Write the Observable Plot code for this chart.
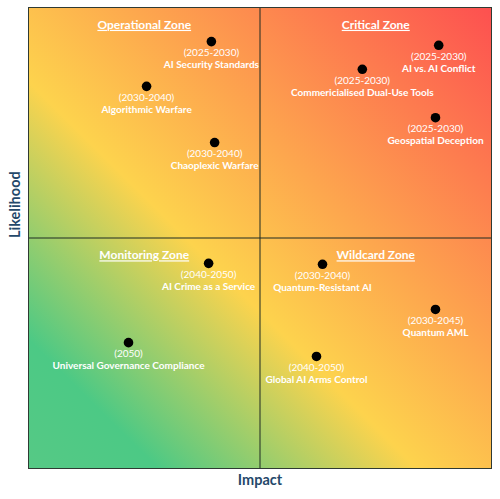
<!DOCTYPE html>
<html>
<head>
<meta charset="utf-8">
<script src="https://cdn.jsdelivr.net/npm/d3@7"></script>
<script src="https://cdn.jsdelivr.net/npm/@observablehq/plot@0.6"></script>
<style>
  html, body { margin: 0; padding: 0; background: white; }
  #chart { width: 500px; height: 499px; }
</style>
</head>
<body>
<div id="chart"></div>
<script>
// ---- data ----
const names = [
  "AI Security Standards", "Algorithmic Warfare", "Chaoplexic Warfare",
  "AI vs. AI Conflict", "Commericialised Dual-Use Tools", "Geospatial Deception",
  "AI Crime as a Service", "Universal Governance Compliance",
  "Quantum-Resistant AI", "Quantum AML", "Global AI Arms Control"
];
const periods = [
  "(2025-2030)", "(2030-2040)", "(2030-2040)",
  "(2025-2030)", "(2025-2030)", "(2025-2030)",
  "(2040-2050)", "(2050)",
  "(2030-2040)", "(2030-2045)", "(2040-2050)"
];
const impact =     [3.95, 2.55, 4.02, 8.86, 7.21, 8.79, 3.89, 2.16, 6.35, 8.79, 6.22];
const likelihood = [9.26, 8.29, 7.07, 9.18, 8.66, 7.61, 4.45, 2.73, 4.43, 3.45, 2.43];

const zoneNames = ["Operational Zone", "Critical Zone", "Monitoring Zone", "Wildcard Zone"];
const zoneImpactCenter = [2.5, 7.5, 2.5, 7.5];
const zoneLikelihoodTop = [10, 10, 5, 5];

const axisMin = 0, axisMax = 10, axisMid = 5;

const risks = names.map((n, i) => ({name: n, period: periods[i], x: impact[i], y: likelihood[i]}));
const zones = zoneNames.map((n, i) => ({name: n, x: zoneImpactCenter[i], y: zoneLikelihoodTop[i]}));

const font = "Lato, 'Open Sans', sans-serif";

const underline = (index, scales, values, dims, context, next) => {
  const g = next(index, scales, values, dims, context);
  g.querySelectorAll("text").forEach(t => t.setAttribute("text-decoration", "underline"));
  return g;
};

const chart = Plot.plot({
  width: 500,
  height: 499,
  marginLeft: 28,
  marginRight: 9,
  marginTop: 7,
  marginBottom: 31,
  x: {domain: [axisMin, axisMax], axis: null},
  y: {domain: [axisMin, axisMax], axis: null},
  style: {fontFamily: font, background: "white", overflow: "visible"},
  marks: [
    Plot.rect([{x1: axisMin, x2: axisMax, y1: axisMin, y2: axisMax}],
      {x1: "x1", x2: "x2", y1: "y1", y2: "y2", fill: "url(#bgGrad)"}),
    Plot.ruleX([axisMid], {stroke: "#1e2a22", strokeWidth: 1}),
    Plot.ruleY([axisMid], {stroke: "#1e2a22", strokeWidth: 1}),
    Plot.frame({stroke: "#2f3a33", strokeWidth: 1}),
    Plot.dot(risks, {x: "x", y: "y", r: 4.8, fill: "black", stroke: "none"}),
    Plot.text(risks, {x: "x", y: "y", text: "period", dy: 11.5, fill: "white", fontSize: 10}),
    Plot.text(risks, {x: "x", y: "y", text: "name", dy: 23.5, fill: "white", fontSize: 10, fontWeight: "bold"}),
    Plot.text(zones, {x: "x", y: "y", text: "name", dy: 17.5, fill: "white", fontSize: 12, fontWeight: "bold", render: underline}),
    Plot.text(["Impact"], {frameAnchor: "bottom", dy: 16, text: d => d, fill: "#24486a", fontSize: 14.5, fontWeight: "bold"}),
    Plot.text(["Likelihood"], {frameAnchor: "left", dx: -13, rotate: -90, text: d => d, fill: "#24486a", fontSize: 14.5, fontWeight: "bold"})
  ]
});

const svg = d3.select(chart);
const defs = svg.insert("defs", ":first-child");
const grad = defs.append("linearGradient")
  .attr("id", "bgGrad")
  .attr("x1", "0").attr("y1", "1").attr("x2", "1").attr("y2", "0");
grad.append("stop").attr("offset", "0").attr("stop-color", "#56c985");
grad.append("stop").attr("offset", "0.14").attr("stop-color", "#4cc985");
grad.append("stop").attr("offset", "0.42").attr("stop-color", "#fdd34d");
grad.append("stop").attr("offset", "1").attr("stop-color", "#fd5050");

document.getElementById("chart").appendChild(chart);
</script>
</body>
</html>
